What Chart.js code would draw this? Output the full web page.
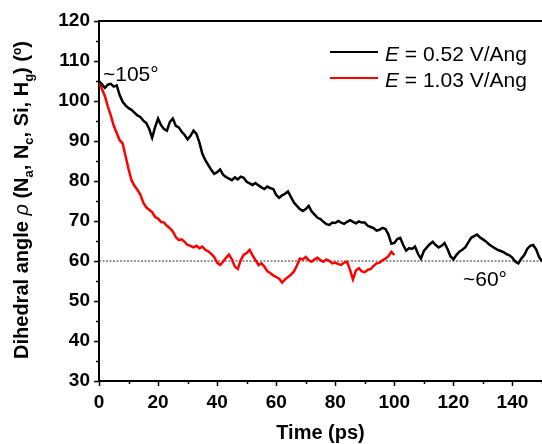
<!DOCTYPE html>
<html>
<head>
<meta charset="utf-8">
<script src="https://cdn.jsdelivr.net/npm/chart.js@4.4.1/dist/chart.umd.min.js"></script>
<style>
  html, body { margin: 0; padding: 0; background: #fff; overflow: hidden; }
  #wrap { width: 542px; height: 444px; position: relative; }
</style>
</head>
<body>
<div id="wrap"><canvas id="angleChart" width="542" height="444"></canvas></div>
<script>
// time axis (ps), shared by both runs
const timePs = [
  0, 1, 2, 3, 4, 5, 6, 7, 8, 9, 10, 11, 12, 13, 14, 15, 16, 17, 18, 19,
  20, 21, 22, 23, 24, 25, 26, 27, 28, 29, 30, 31, 32, 33, 34, 35, 36, 37, 38, 39,
  40, 41, 42, 43, 44, 45, 46, 47, 48, 49, 50, 51, 52, 53, 54, 55, 56, 57, 58, 59,
  60, 61, 62, 63, 64, 65, 66, 67, 68, 69, 70, 71, 72, 73, 74, 75, 76, 77, 78, 79,
  80, 81, 82, 83, 84, 85, 86, 87, 88, 89, 90, 91, 92, 93, 94, 95, 96, 97, 98, 99,
  100, 101, 102, 103, 104, 105, 106, 107, 108, 109, 110, 111, 112, 113, 114, 115, 116, 117, 118, 119,
  120, 121, 122, 123, 124, 125, 126, 127, 128, 129, 130, 131, 132, 133, 134, 135, 136, 137, 138, 139,
  140, 141, 142, 143, 144, 145, 146, 147, 148, 149, 150
];
// E = 0.52 V/Ang
const angleLowField = [
  105.0, 104.2, 103.3, 104.1, 104.3, 103.6, 103.9, 101.5, 99.8, 98.9,
  98.2, 97.8, 97.1, 96.4, 96.0, 95.1, 94.5, 93.0, 90.8, 93.5,
  95.6, 94.0, 93.0, 92.6, 94.8, 95.6, 93.8, 93.4, 92.3, 91.5,
  90.4, 91.3, 92.6, 91.8, 89.6, 86.8, 85.2, 84.0, 82.8, 81.8,
  82.2, 82.9, 81.6, 81.0, 80.6, 80.2, 80.9, 80.4, 81.1, 80.8,
  79.8, 79.4, 79.0, 79.5, 78.9, 78.4, 78.0, 78.6, 78.2, 78.0,
  76.5, 75.8, 76.4, 76.8, 77.4, 76.0, 74.6, 73.8, 73.0, 72.5,
  73.0, 73.8, 72.4, 71.6, 70.8, 70.5, 69.8, 69.2, 69.0, 69.6,
  69.5, 70.0, 69.6, 69.3, 69.8, 70.2, 69.8, 69.4, 69.9, 69.6,
  69.6, 68.8, 68.5, 68.2, 67.6, 67.8, 68.3, 68.0, 66.6, 64.3,
  64.5, 65.5, 65.8, 64.0, 62.6, 63.2, 63.0, 63.6, 61.8, 60.6,
  62.5, 63.4, 64.2, 64.8, 64.0, 63.4, 63.8, 64.5, 63.0, 61.2,
  60.4, 61.5, 62.3, 62.8, 63.4, 64.6, 65.8, 66.2, 66.6, 65.9,
  65.4, 64.9, 64.2, 63.7, 63.2, 62.8, 62.5, 62.2, 61.7, 61.4,
  60.8, 59.8, 59.4, 60.6, 61.5, 63.0, 63.8, 64.0, 62.9, 61.0,
  59.9
];
// E = 1.03 V/Ang (0 - 100 ps)
const angleHighField = [
  104.8, 103.0, 101.2, 98.6, 96.4, 93.8, 92.0, 90.2, 89.4, 86.2,
  83.0, 80.2, 78.8, 77.8, 76.6, 74.6, 73.4, 72.8, 72.2, 71.0,
  70.6, 69.8, 69.6, 68.8, 68.2, 67.4, 66.0, 65.2, 65.4, 64.8,
  64.0, 63.8, 63.4, 63.8, 63.2, 63.6, 62.8, 62.4, 61.8, 61.0,
  59.6, 59.0, 59.8, 60.8, 61.6, 60.4, 58.6, 58.0, 60.2, 61.6,
  62.0, 62.8, 61.4, 60.2, 59.0, 59.4, 58.6, 57.4, 57.0, 56.4,
  56.0, 55.6, 54.6, 55.4, 56.0, 56.6, 57.4, 58.8, 60.6, 60.4,
  61.0, 60.2, 59.8, 60.4, 60.8, 60.2, 59.8, 60.4, 60.0, 59.4,
  59.6, 59.2, 59.0, 59.6, 59.8, 57.8, 55.4, 57.6, 58.2, 57.4,
  57.2, 57.8, 58.0, 58.8, 59.4, 59.6, 60.2, 60.6, 61.2, 62.3,
  61.5
];
const seriesLabels = ['0.52 V/Ang', '1.03 V/Ang'];
const refAngle = 60;
const xTicks = [0, 20, 40, 60, 80, 100, 120, 140];
const yTicks = [30, 40, 50, 60, 70, 80, 90, 100, 110, 120];

const FONT = 'Arial, "Liberation Sans", sans-serif';

// draws a run of text pieces with their own fonts / offsets
function drawRich(ctx, parts, x, y, align) {
    let total = 0;
    parts.forEach(p => { ctx.font = p.font; total += ctx.measureText(p.text).width; });
    let cx = align === 'center' ? x - total / 2 : x;
    parts.forEach(p => {
        ctx.font = p.font;
        ctx.fillText(p.text, cx, y + (p.dy || 0));
        cx += ctx.measureText(p.text).width;
    });
}

const extras = {
    id: 'extras',
    afterDraw(chart) {
        const ctx = chart.ctx;
        const area = chart.chartArea;
        const xs = chart.scales.x, ys = chart.scales.y;
        ctx.save();
        ctx.strokeStyle = '#000';
        ctx.fillStyle = '#000';
        // top frame
        ctx.lineWidth = 2;
        ctx.beginPath();
        ctx.moveTo(area.left, area.top);
        ctx.lineTo(area.right + 2, area.top);
        ctx.stroke();
        // minor ticks
        ctx.lineWidth = 1.5;
        ctx.beginPath();
        for (let v = 35; v < 120; v += 10) {
            const py = Math.round(ys.getPixelForValue(v)) + 0.5;
            ctx.moveTo(area.left - 3, py);
            ctx.lineTo(area.left, py);
        }
        for (let v = 10; v <= 150; v += 20) {
            const px = Math.round(xs.getPixelForValue(v)) + 0.5;
            ctx.moveTo(px, area.bottom);
            ctx.lineTo(px, area.bottom + 3);
        }
        ctx.stroke();

        ctx.textBaseline = 'alphabetic';
        ctx.textAlign = 'left';
        // x title
        drawRich(ctx, [{ text: 'Time (ps)', font: 'bold 20px ' + FONT }], (area.left + area.right) / 2, 439, 'center');
        // y title (rotated, with subscripts)
        const bold = 'bold 20px ' + FONT;
        const sub = 'bold 13px ' + FONT;
        ctx.save();
        ctx.translate(28, 200);
        ctx.rotate(-Math.PI / 2);
        drawRich(ctx, [
            { text: 'Dihedral angle ', font: bold },
            { text: 'ρ', font: 'italic 20px ' + FONT },
            { text: ' (N', font: bold },
            { text: 'a', font: sub, dy: 5 },
            { text: ', N', font: bold },
            { text: 'c', font: sub, dy: 5 },
            { text: ', Si, H', font: bold },
            { text: 'g', font: sub, dy: 5 },
            { text: ') (', font: bold },
            { text: 'o', font: 'bold 12px ' + FONT, dy: -7 },
            { text: ')', font: bold }
        ], 0, 0, 'center');
        ctx.restore();

        // legend
        const legendRows = [
            { color: '#000000', y: 52, text: seriesLabels[0] },
            { color: '#ff0000', y: 78, text: seriesLabels[1] }
        ];
        legendRows.forEach(r => {
            ctx.strokeStyle = r.color;
            ctx.lineWidth = 2;
            ctx.beginPath();
            ctx.moveTo(330, r.y);
            ctx.lineTo(378, r.y);
            ctx.stroke();
            ctx.fillStyle = '#000';
            drawRich(ctx, [
                { text: 'E', font: 'italic 21px ' + FONT },
                { text: ' = ' + r.text, font: '21px ' + FONT }
            ], 385, r.y + 9, 'left');
        });

        // annotations
        ctx.font = '21px ' + FONT;
        ctx.fillText('~105°', 103, 81);
        ctx.fillText('~60°', 463, 286);
        ctx.restore();
    }
};

const ctx = document.getElementById('angleChart').getContext('2d');
new Chart(ctx, {
    type: 'line',
    data: {
        datasets: [
            {
                label: seriesLabels[0],
                data: angleLowField.map((v, i) => ({ x: timePs[i], y: v })),
                borderColor: '#000000',
                borderWidth: 2.5,
                pointRadius: 0,
                tension: 0
            },
            {
                label: seriesLabels[1],
                data: angleHighField.map((v, i) => ({ x: timePs[i], y: v })),
                borderColor: '#ff0000',
                borderWidth: 2.5,
                pointRadius: 0,
                tension: 0
            },
            {
                label: 'ref',
                data: [{ x: 0, y: refAngle }, { x: 150, y: refAngle }],
                borderColor: '#333333',
                borderWidth: 1,
                borderDash: [2, 1.5],
                pointRadius: 0
            }
        ]
    },
    options: {
        responsive: false,
        animation: false,
        events: [],
        layout: { padding: { left: 0, top: 21, right: 0, bottom: 0 } },
        plugins: {
            legend: { display: false },
            tooltip: { enabled: false }
        },
        scales: {
            x: {
                type: 'linear',
                min: 0,
                max: 150,
                afterFit: s => { s.height = 63; },
                afterBuildTicks: s => { s.ticks = xTicks.map(v => ({ value: v })); },
                grid: { drawOnChartArea: false, tickLength: 5, tickWidth: 1.5, tickColor: '#000' },
                border: { display: true, color: '#000', width: 2 },
                ticks: {
                    color: '#000',
                    padding: 5,
                    maxRotation: 0,
                    autoSkip: false,
                    font: { family: FONT, size: 19, weight: 'bold' }
                }
            },
            y: {
                min: 30,
                max: 120,
                afterFit: s => { s.width = 99; },
                afterBuildTicks: s => { s.ticks = yTicks.map(v => ({ value: v })); },
                grid: { drawOnChartArea: false, tickLength: 5, tickWidth: 1.5, tickColor: '#000' },
                border: { display: true, color: '#000', width: 2 },
                ticks: {
                    color: '#000',
                    padding: 4,
                    autoSkip: false,
                    font: { family: FONT, size: 19, weight: 'bold' }
                }
            }
        }
    },
    plugins: [extras]
});
</script>
</body>
</html>
